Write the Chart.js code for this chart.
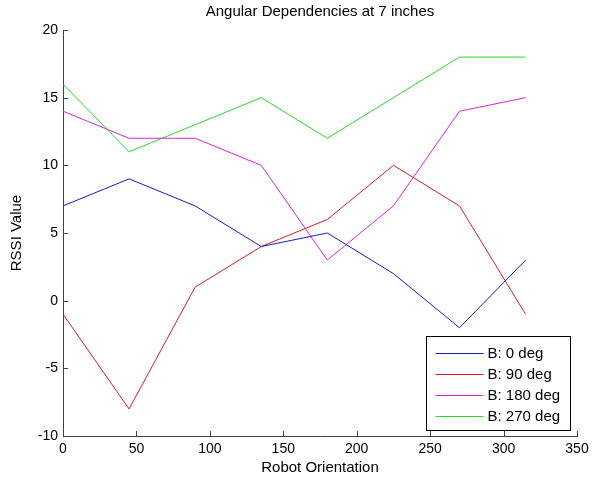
<!DOCTYPE html>
<html>
<head>
<meta charset="utf-8">
<script src="https://cdn.jsdelivr.net/npm/chart.js@4"></script>
<style>
  html, body { margin: 0; padding: 0; background: #fff; }
  #wrap { width: 597px; height: 477px; }
</style>
</head>
<body>
<div id="wrap"><canvas id="chart" width="597" height="477"></canvas></div>
<script>
// orientation of the robot, degrees
var orientations = [0, 45, 90, 135, 180, 225, 270, 315];

// RSSI per beacon angle
var b0   = [7, 9, 7, 4, 5, 2, -2, 3];
var b90  = [-1, -8, 1, 4, 6, 10, 7, -1];
var b180 = [14, 12, 12, 10, 3, 7, 14, 15];
var b270 = [16, 11, 13, 15, 12, 15, 18, 18];

var seriesNames = ['B: 0 deg', 'B: 90 deg', 'B: 180 deg', 'B: 270 deg'];
var seriesColors = ['#1818cc', '#dc1c1c', '#de22de', '#22dc22'];

var xTicks = [0, 50, 100, 150, 200, 250, 300, 350];
var yTicks = [-10, -5, 0, 5, 10, 15, 20];

var chartTitle = 'Angular Dependencies at 7 inches';

var FONT = 'Arial, "Liberation Sans", sans-serif';
var AXIS = '#404040';

function pts(ys) {
  return orientations.map(function(x, i) { return {x: x, y: ys[i]}; });
}

// title centred over the axes, not the canvas
var axesTitle = {
  id: 'axesTitle',
  afterDraw: function(chart) {
    var ctx = chart.ctx, a = chart.chartArea;
    ctx.save();
    ctx.font = '15px ' + FONT;
    ctx.fillStyle = '#000';
    ctx.textAlign = 'center';
    ctx.textBaseline = 'middle';
    ctx.fillText(chartTitle, (a.left + a.right) / 2, 12);
    ctx.restore();
  }
};

// inward tick marks, MATLAB style
var tickMarks = {
  id: 'tickMarks',
  afterDatasetsDraw: function(chart) {
    var ctx = chart.ctx, a = chart.chartArea;
    var xs = chart.scales.x, ys = chart.scales.y;
    ctx.save();
    ctx.strokeStyle = AXIS;
    ctx.lineWidth = 1;
    ctx.beginPath();
    xTicks.forEach(function(v) {
      var px = Math.round(xs.getPixelForValue(v)) + 0.5;
      ctx.moveTo(px, a.bottom);
      ctx.lineTo(px, a.bottom - 5);
    });
    yTicks.forEach(function(v) {
      var py = Math.round(ys.getPixelForValue(v)) + 0.5;
      ctx.moveTo(a.left, py);
      ctx.lineTo(a.left + 5, py);
    });
    ctx.stroke();
    ctx.restore();
  }
};

// boxed legend in the lower right corner
var boxLegend = {
  id: 'boxLegend',
  afterDraw: function(chart) {
    var ctx = chart.ctx, a = chart.chartArea;
    var w = 144, h = 94;
    var x0 = Math.round(a.right - 7 - w) + 0.5;
    var y0 = Math.round(a.bottom - 6 - h) + 0.5;
    ctx.save();
    ctx.fillStyle = '#fff';
    ctx.fillRect(x0, y0, w, h);
    ctx.strokeStyle = '#000';
    ctx.lineWidth = 1;
    ctx.strokeRect(x0, y0, w, h);
    ctx.font = '15px ' + FONT;
    ctx.textBaseline = 'middle';
    chart.data.datasets.forEach(function(ds, i) {
      var yy = Math.round(y0 + 16 + i * 21.3) + 0.5;
      ctx.strokeStyle = ds.borderColor;
      ctx.beginPath();
      ctx.moveTo(x0 + 9, yy);
      ctx.lineTo(x0 + 57, yy);
      ctx.stroke();
      ctx.fillStyle = '#000';
      ctx.fillText(ds.label, x0 + 61, yy);
    });
    ctx.restore();
  }
};

var datasets = [b0, b90, b180, b270].map(function(ys, i) {
  return {
    label: seriesNames[i],
    data: pts(ys),
    borderColor: seriesColors[i],
    borderWidth: 1,
    pointRadius: 0,
    tension: 0,
    fill: false
  };
});

new Chart(document.getElementById('chart'), {
  type: 'line',
  data: { datasets: datasets },
  plugins: [axesTitle, tickMarks, boxLegend],
  options: {
    responsive: false,
    animation: false,
    layout: { padding: { top: 30, right: 20, left: 0, bottom: 0 } },
    plugins: {
      legend: { display: false },
      tooltip: { enabled: false },
      title: { display: false }
    },
    scales: {
      x: {
        type: 'linear',
        min: 0, max: 350,
        afterBuildTicks: function(s) { s.ticks = xTicks.map(function(v) { return {value: v}; }); },
        afterFit: function(s) { s.height = 41; },
        grid: { display: false, drawTicks: false },
        border: { display: true, color: AXIS, width: 1 },
        ticks: { color: '#000', padding: 5, maxRotation: 0, font: { family: FONT, size: 14 } },
        title: {
          display: true, text: 'Robot Orientation', color: '#000',
          font: { family: FONT, size: 15 }, padding: { top: 0, bottom: 0 }
        }
      },
      y: {
        type: 'linear',
        min: -10, max: 20,
        afterBuildTicks: function(s) { s.ticks = yTicks.map(function(v) { return {value: v}; }); },
        afterFit: function(s) { s.width = 63; },
        grid: { display: false, drawTicks: false },
        border: { display: true, color: AXIS, width: 1 },
        ticks: { color: '#000', padding: 5, font: { family: FONT, size: 14 } },
        title: {
          display: true, text: 'RSSI Value', color: '#000',
          font: { family: FONT, size: 15 }, padding: { top: 8, bottom: 0 }
        }
      }
    }
  }
});
</script>
</body>
</html>
